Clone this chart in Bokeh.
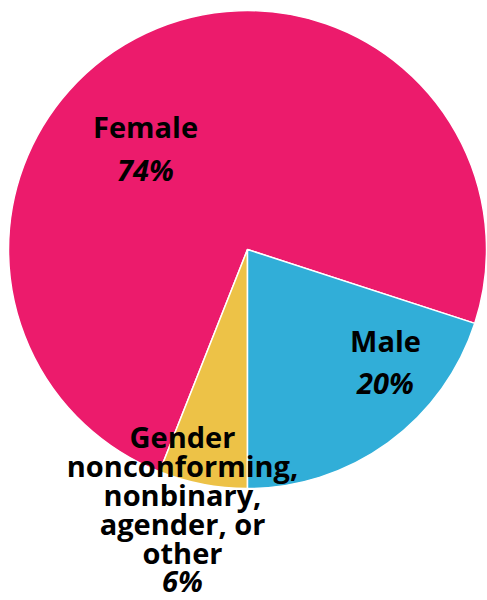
import numpy as np
from bokeh.plotting import figure
from bokeh.models import ColumnDataSource, Range1d
from bokeh.core.properties import value
from bokeh.embed import file_html
from bokeh.resources import INLINE

# ---- data ----
categories = ["Female", "Gender nonconforming, nonbinary, agender, or other", "Male"]
shares = [74, 6, 20]
pct_labels = ["74%", "6%", "20%"]
colors = ["#EC1B6C", "#EDC247", "#31AED8"]

W, H = 487, 600
cx, cy, r = 247, H - 249, 239
start_deg = -18.0

vals = np.array(shares, dtype=float)
frac = vals / vals.sum()
ends = np.deg2rad(start_deg) + np.cumsum(frac) * 2 * np.pi
starts = np.concatenate([[np.deg2rad(start_deg)], ends[:-1]])

src = ColumnDataSource(dict(cat=categories, start=starts, end=ends, color=colors))

p = figure(width=W, height=H, output_backend="svg", toolbar_location=None,
           x_range=Range1d(0, W), y_range=Range1d(0, H), min_border=0)
p.axis.visible = False
p.grid.visible = False
p.outline_line_color = None
p.background_fill_color = "white"

p.wedge(x=cx, y=cy, radius=r, start_angle="start", end_angle="end",
        fill_color="color", line_color="white", line_width=1.5, source=src)

font = value("Open Sans")

def lines_at(lines, x, centers):
    for i, (t, c) in enumerate(zip(lines, centers)):
        style = "bold italic" if i == len(lines) - 1 else "bold"
        p.text(x=[x], y=[H - c], text=[t], text_font=font,
               text_font_size="29px", text_font_style=style, text_color="black",
               text_align="center", text_baseline="middle")

# Female
lines_at([categories[0], pct_labels[0]], 145, [126, 169])
# Male
lines_at([categories[2], pct_labels[2]], 385, [340, 382])
# Gender
lines_at(["Gender", "nonconforming,", "nonbinary,", "agender, or", "other", pct_labels[1]],
         182, [436, 465, 494, 523, 552, 580])

open("out.html", "w").write(file_html(p, INLINE))
